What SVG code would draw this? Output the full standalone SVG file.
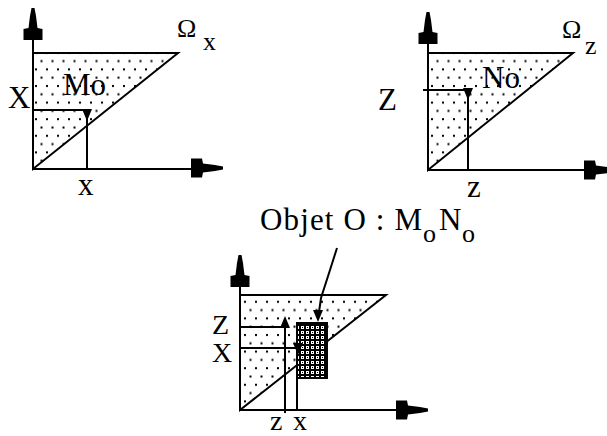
<svg xmlns="http://www.w3.org/2000/svg" xmlns:xlink="http://www.w3.org/1999/xlink" width="607" height="436" viewBox="0 0 607 436">
<style>
.ax{stroke:#000;stroke-width:2;fill:none}
.ln{stroke:#000;stroke-width:2;fill:none}
.tri{fill:url(#dots);stroke:#000;stroke-width:2}
.t{font-family:"Liberation Serif","Times New Roman",serif;fill:#000}
.big{font-size:31px}
.mid{font-size:28px}
.sub{font-size:26px}
</style>
<defs>
<pattern id="dots" patternUnits="userSpaceOnUse" width="11" height="16.6">
<rect width="11" height="16.6" fill="#fff"/>
<rect x="2" y="2" width="2" height="2" fill="#000"/>
<rect x="7.5" y="10.3" width="2" height="2" fill="#000"/>
</pattern>
<pattern id="dense" patternUnits="userSpaceOnUse" width="5" height="5">
<rect width="5" height="5" fill="#000"/>
<rect x="1" y="1" width="3" height="3" fill="#fff"/>
<rect x="2" y="2" width="1" height="1" fill="#000"/>
</pattern>
<path id="ah" d="M-1.5,0 L1.5,0 L3,8 L4.5,20 L9.5,21 L9.5,32 L-9.5,32 L-9.5,21 L-4.5,20 L-3,8 Z" fill="#000"/>
<path id="sa" d="M0,0 L-5,-12 L5,-12 Z" fill="#000"/>
</defs>

<g id="diagram-x">
<polygon class="tri" points="33,53 178,53 33,169"/>
<line class="ax" x1="33" y1="30" x2="33" y2="170"/>
<line class="ax" x1="32" y1="169" x2="195" y2="169"/>
<use xlink:href="#ah" href="#ah" transform="translate(33,8)"/>
<use xlink:href="#ah" href="#ah" transform="translate(223,168) rotate(90)"/>
<polyline class="ln" points="33,110 87,110 87,169"/>
<use xlink:href="#sa" href="#sa" transform="translate(87,121)"/>
<text class="t big" x="63" y="95">Mo</text>
<text class="t big" x="8" y="108">X</text>
<text class="t big" x="78" y="195">x</text>
<text class="t sub" x="177" y="37">Ω</text>
<text class="t sub" x="203" y="50">x</text>
</g>

<g id="diagram-z">
<polygon class="tri" points="428,53 573,53 428,170"/>
<line class="ax" x1="428" y1="35" x2="428" y2="171"/>
<line class="ax" x1="427" y1="170" x2="590" y2="170"/>
<use xlink:href="#ah" href="#ah" transform="translate(428,12)"/>
<use xlink:href="#ah" href="#ah" transform="translate(616,170) rotate(90)"/>
<polyline class="ln" points="423,90 468,90 468,170"/>
<use xlink:href="#sa" href="#sa" transform="translate(468,100)"/>
<text class="t big" x="482" y="88">No</text>
<text class="t big" x="378" y="110">Z</text>
<text class="t big" x="467" y="197">z</text>
<text class="t sub" x="562" y="38">Ω</text>
<text class="t sub" x="585" y="54">z</text>
</g>

<g id="diagram-object">
<polygon class="tri" points="240,295 386,295 240,410"/>
<rect x="297" y="323" width="30" height="55" fill="url(#dense)" stroke="#000" stroke-width="2"/>
<line class="ax" x1="240" y1="275" x2="240" y2="411"/>
<line class="ax" x1="239" y1="410" x2="400" y2="410"/>
<use xlink:href="#ah" href="#ah" transform="translate(240,255)"/>
<use xlink:href="#ah" href="#ah" transform="translate(428,410) rotate(90)"/>
<polyline class="ln" points="240,327 285,327"/>
<line class="ln" x1="285" y1="318" x2="285" y2="413"/>
<polyline class="ln" points="240,348 297,348 297,410"/>
<use xlink:href="#sa" href="#sa" transform="translate(285,316) rotate(180)"/>
<use xlink:href="#sa" href="#sa" transform="translate(298,355)"/>
<text class="t mid" x="212" y="334">Z</text>
<text class="t mid" x="212" y="362">X</text>
<text class="t mid" x="270" y="430">z</text>
<text class="t mid" x="293" y="430">x</text>
</g>

<g id="label-object">
<text class="t big" x="260" y="230" textLength="162" lengthAdjust="spacing">Objet O : M</text>
<text class="t sub" x="423" y="242">o</text>
<text class="t big" x="439" y="230">N</text>
<text class="t sub" x="462" y="242">o</text>
</g>

<g id="connectors">
<polyline class="ln" points="337,248 330,270 321,298 319,312"/>
<use xlink:href="#sa" href="#sa" transform="translate(318,322)"/>
</g>
</svg>
